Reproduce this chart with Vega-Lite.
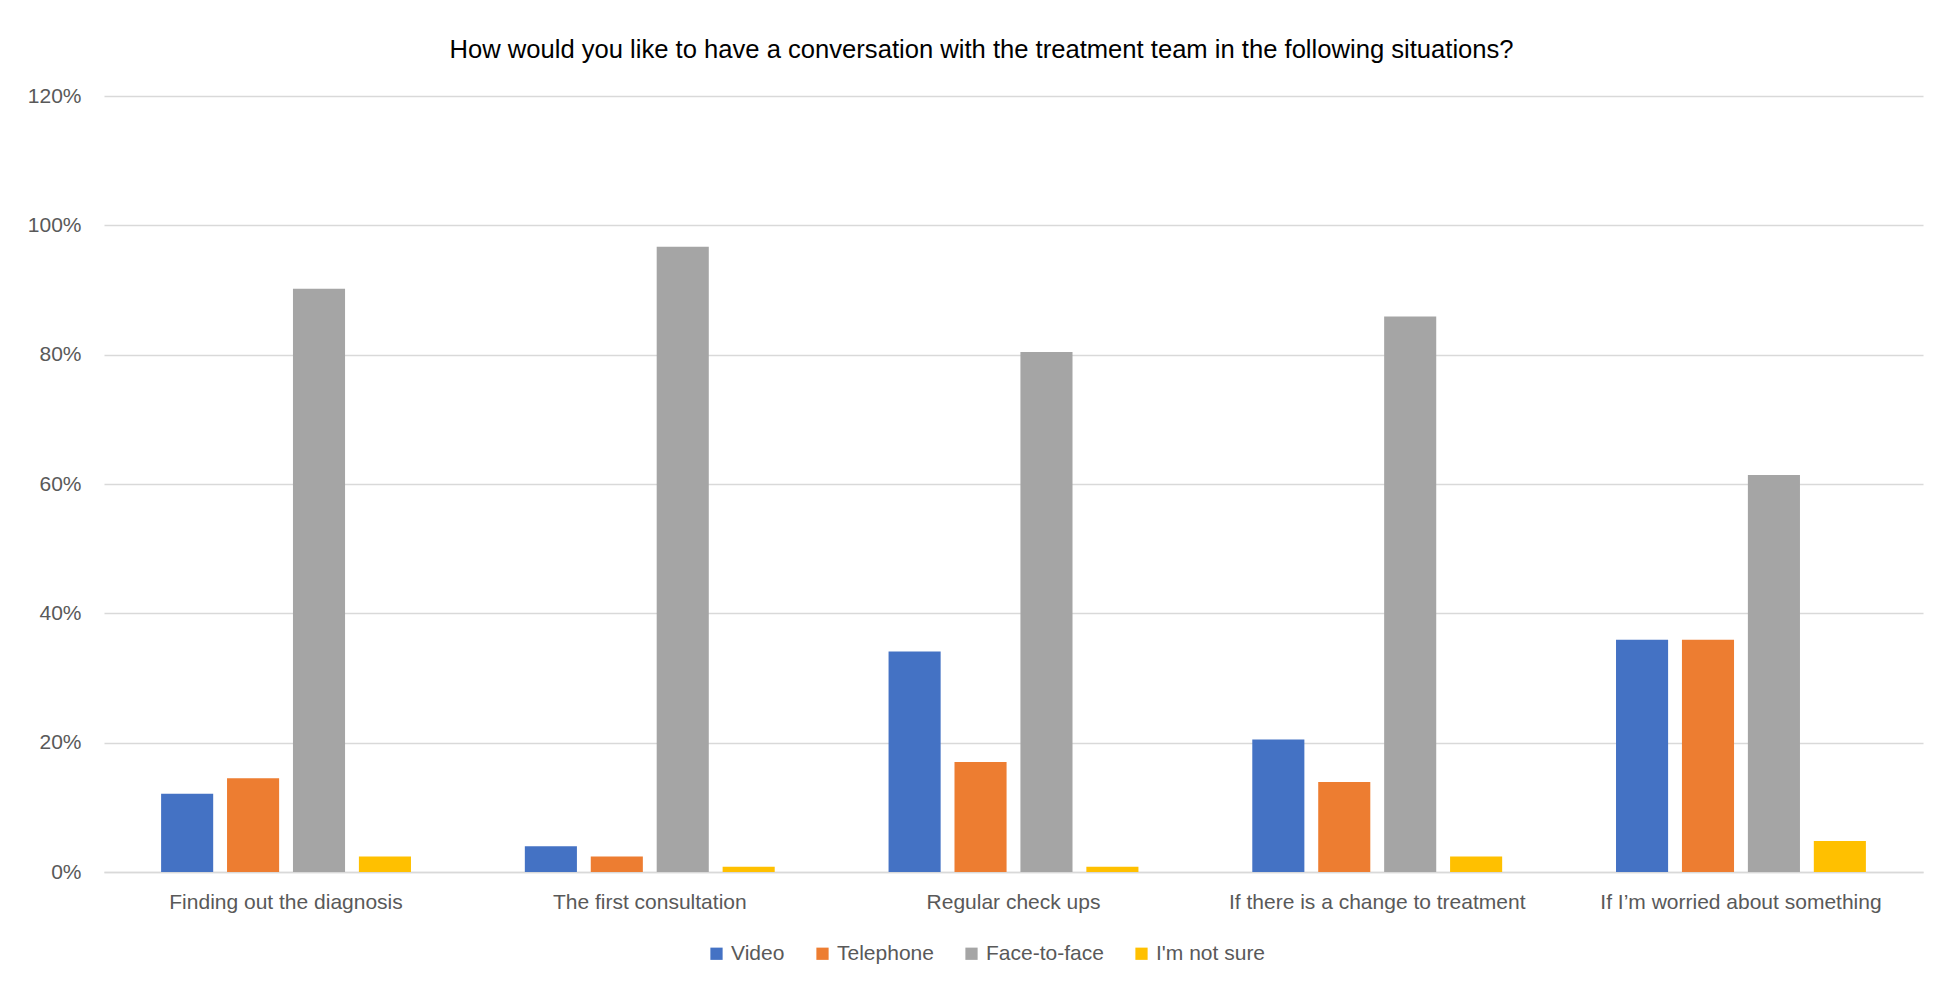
{
  "$schema": "https://vega.github.io/schema/vega-lite/v6.json",
  "autosize": {"type": "none"},
  "width": 1819,
  "height": 776,
  "padding": {"left": 104, "top": 96, "right": 14, "bottom": 119},
  "background": "white",
  "title": {
    "text": "How would you like to have a conversation with the treatment team in the following situations?",
    "font": "Liberation Sans",
    "fontSize": 25.6,
    "fontWeight": "normal",
    "color": "#000000",
    "anchor": "middle",
    "dx": -32,
    "offset": 21
  },
  "data": {
    "values": [
      {"situation": "Finding out the diagnosis", "mode": "Video", "value": 0.121},
      {"situation": "Finding out the diagnosis", "mode": "Telephone", "value": 0.145},
      {"situation": "Finding out the diagnosis", "mode": "Face-to-face", "value": 0.902},
      {"situation": "Finding out the diagnosis", "mode": "I'm not sure", "value": 0.024},
      {"situation": "The first consultation", "mode": "Video", "value": 0.040},
      {"situation": "The first consultation", "mode": "Telephone", "value": 0.024},
      {"situation": "The first consultation", "mode": "Face-to-face", "value": 0.967},
      {"situation": "The first consultation", "mode": "I'm not sure", "value": 0.008},
      {"situation": "Regular check ups", "mode": "Video", "value": 0.341},
      {"situation": "Regular check ups", "mode": "Telephone", "value": 0.170},
      {"situation": "Regular check ups", "mode": "Face-to-face", "value": 0.804},
      {"situation": "Regular check ups", "mode": "I'm not sure", "value": 0.008},
      {"situation": "If there is a change to treatment", "mode": "Video", "value": 0.205},
      {"situation": "If there is a change to treatment", "mode": "Telephone", "value": 0.139},
      {"situation": "If there is a change to treatment", "mode": "Face-to-face", "value": 0.859},
      {"situation": "If there is a change to treatment", "mode": "I'm not sure", "value": 0.024},
      {"situation": "If I’m worried about something", "mode": "Video", "value": 0.359},
      {"situation": "If I’m worried about something", "mode": "Telephone", "value": 0.359},
      {"situation": "If I’m worried about something", "mode": "Face-to-face", "value": 0.614},
      {"situation": "If I’m worried about something", "mode": "I'm not sure", "value": 0.048}
    ]
  },
  "mark": {"type": "bar"},
  "encoding": {
    "x": {
      "field": "situation",
      "type": "nominal",
      "sort": null,
      "scale": {"paddingInner": 0.313, "paddingOuter": 0.157},
      "axis": {
        "title": null,
        "labelAngle": 0,
        "labelLimit": 0,
        "labelFont": "Liberation Sans",
        "labelFontSize": 21,
        "labelColor": "#595959",
        "labelPadding": 19,
        "ticks": false,
        "domainColor": "#D9D9D9",
        "domainWidth": 1.3
      }
    },
    "xOffset": {
      "field": "mode",
      "type": "nominal",
      "sort": ["Video", "Telephone", "Face-to-face", "I'm not sure"],
      "scale": {"paddingInner": 0.21, "paddingOuter": 0}
    },
    "y": {
      "field": "value",
      "type": "quantitative",
      "scale": {"domain": [0, 1.2], "nice": false},
      "axis": {
        "title": null,
        "values": [0, 0.2, 0.4, 0.6, 0.8, 1.0, 1.2],
        "format": ".0%",
        "labelFont": "Liberation Sans",
        "labelFontSize": 21,
        "labelColor": "#595959",
        "labelPadding": 23,
        "ticks": false,
        "domain": false,
        "gridColor": "#D9D9D9",
        "gridWidth": 1.3
      }
    },
    "color": {
      "field": "mode",
      "type": "nominal",
      "sort": ["Video", "Telephone", "Face-to-face", "I'm not sure"],
      "scale": {
        "domain": ["Video", "Telephone", "Face-to-face", "I'm not sure"],
        "range": ["#4472C4", "#ED7D31", "#A5A5A5", "#FFC000"]
      },
      "legend": {
        "title": null,
        "orient": "none",
        "direction": "horizontal",
        "legendX": 602,
        "legendY": 847,
        "symbolType": "square",
        "symbolSize": 150,
        "symbolStrokeWidth": 0,
        "labelFont": "Liberation Sans",
        "labelFontSize": 21,
        "labelColor": "#595959",
        "labelOffset": 4,
        "columnPadding": 27
      }
    }
  },
  "config": {
    "view": {"stroke": null}
  }
}
